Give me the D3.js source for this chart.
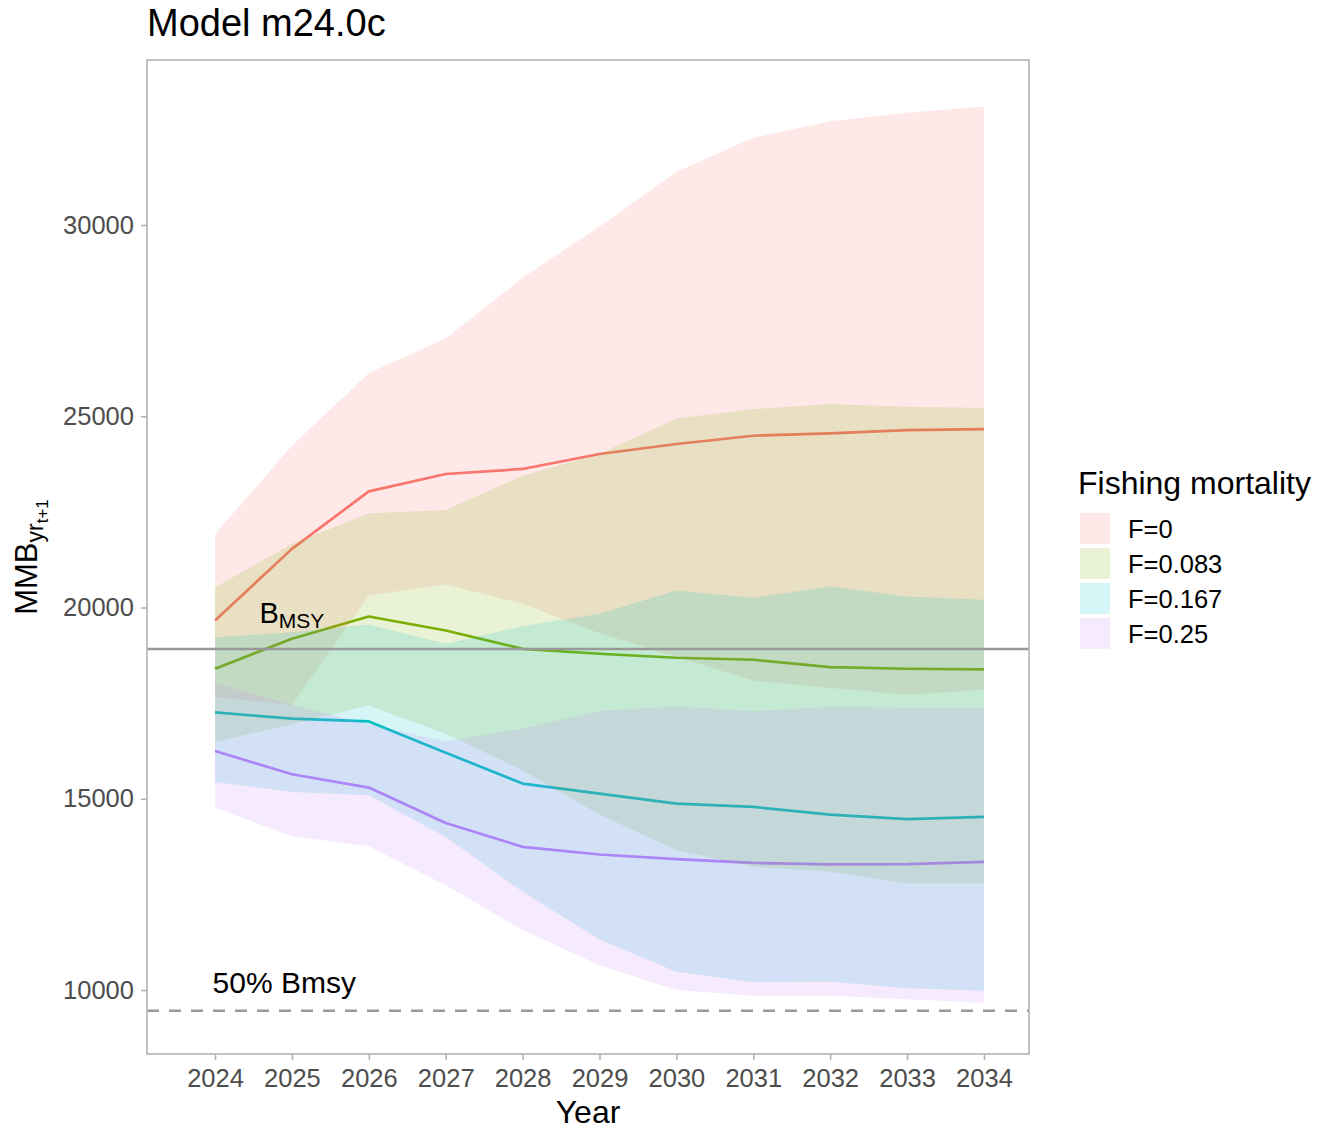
<!DOCTYPE html>
<html>
<head>
<meta charset="utf-8">
<script src="https://cdn.jsdelivr.net/npm/d3@7"></script>
<style>
  body { margin: 0; background: #ffffff; }
  text { font-family: "Liberation Sans", Arial, Helvetica, sans-serif; }
</style>
</head>
<body>
<svg id="chart" width="1329" height="1130"></svg>
<script>
// Projected mature male biomass by fishing-mortality scenario
const years = [2024, 2025, 2026, 2027, 2028, 2029, 2030, 2031, 2032, 2033, 2034];
const scenarios = ["F=0", "F=0.083", "F=0.167", "F=0.25"];
const scenarioColors = ["#F8766D", "#7CAE00", "#00BFC4", "#C77CFF"];

// F = 0
const medF0   = [19661, 21533, 23037, 23491, 23622, 24013, 24274, 24491, 24551, 24640, 24665];
const lowF0   = [17658, 17450, 20313, 20601, 20096, 19330, 18703, 18094, 17894, 17720, 17851];
const highF0  = [21924, 24230, 26128, 27031, 28624, 29956, 31392, 32280, 32715, 32932, 33099];
// F = 0.083
const medF1   = [18399, 19183, 19765, 19399, 18921, 18791, 18687, 18634, 18443, 18399, 18381];
const lowF1   = [16483, 16950, 17441, 16700, 15744, 14590, 13655, 13220, 13090, 12786, 12786];
const highF1  = [20530, 21662, 22462, 22550, 23446, 24013, 24943, 25187, 25318, 25248, 25213];
// F = 0.167
const medF2   = [17258, 17093, 17023, 16204, 15397, 15136, 14875, 14786, 14587, 14465, 14525];
const lowF2   = [15438, 15177, 15091, 14003, 12567, 11320, 10478, 10200, 10218, 10044, 9982];
const highF2  = [19225, 19355, 19556, 19052, 19512, 19834, 20444, 20253, 20548, 20287, 20201];
// F = 0.25
const medF3   = [16250, 15640, 15292, 14368, 13742, 13543, 13420, 13324, 13282, 13290, 13350];
const lowF3   = [14770, 14021, 13760, 12742, 11567, 10650, 10000, 9852, 9852, 9757, 9668];
const highF3  = [18024, 17450, 16950, 16500, 16832, 17293, 17415, 17285, 17406, 17380, 17381];

// Reference points
const bmsy = 18915;
const halfBmsy = bmsy / 2;

const yTicks = [10000, 15000, 20000, 25000, 30000];

const medians = [medF0, medF1, medF2, medF3];
const lows = [lowF0, lowF1, lowF2, lowF3];
const highs = [highF0, highF1, highF2, highF3];

const series = scenarios.map((name, i) => ({
  name,
  color: scenarioColors[i],
  points: years.map((yr, j) => ({ year: yr, med: medians[i][j], lo: lows[i][j], hi: highs[i][j] }))
}));

const svg = d3.select("#chart");
const panel = { left: 147, right: 1029, top: 60, bottom: 1054 };
const ribbonAlpha = 0.16;
const borderGrey = "#B3B3B3";
const fontStack = '"Liberation Sans", Arial, Helvetica, sans-serif';

const x = d3.scaleLinear().domain([2023.115, 2034.586]).range([panel.left, panel.right]);
const y = d3.scaleLinear().domain([8327, 34314]).range([panel.bottom, panel.top]);

svg.append("rect").attr("width", 1329).attr("height", 1130).attr("fill", "#ffffff");

// Median trajectories (drawn beneath the ribbons)
const line = d3.line().x(d => x(d.year)).y(d => y(d.med));
svg.append("g").selectAll("path").data(series).join("path")
  .attr("d", d => line(d.points))
  .attr("fill", "none")
  .attr("stroke", d => d.color)
  .attr("stroke-width", 2.7)
  .attr("stroke-linejoin", "round");

// Uncertainty ribbons
const area = d3.area().x(d => x(d.year)).y0(d => y(d.lo)).y1(d => y(d.hi));
svg.append("g").selectAll("path").data(series).join("path")
  .attr("d", d => area(d.points))
  .attr("fill", d => d.color)
  .attr("fill-opacity", ribbonAlpha);

// B_MSY and 50% B_MSY reference lines
svg.append("line")
  .attr("x1", panel.left).attr("x2", panel.right)
  .attr("y1", y(bmsy)).attr("y2", y(bmsy))
  .attr("stroke", "#999999").attr("stroke-width", 2.5);
svg.append("line")
  .attr("x1", panel.left).attr("x2", panel.right)
  .attr("y1", y(halfBmsy)).attr("y2", y(halfBmsy))
  .attr("stroke", "#999999").attr("stroke-width", 2.5)
  .attr("stroke-dasharray", "12,10");

// Reference line labels
const bLabel = svg.append("text")
  .attr("x", x(2025)).attr("y", y(bmsy) - 26)
  .attr("text-anchor", "middle").attr("font-size", 29).attr("fill", "#000");
bLabel.append("tspan").text("B");
bLabel.append("tspan").attr("font-size", 21).attr("dy", 5).text("MSY");

svg.append("text")
  .attr("x", x(2024.9)).attr("y", y(halfBmsy) - 18)
  .attr("text-anchor", "middle").attr("font-size", 30).attr("fill", "#000")
  .text("50% Bmsy");

// Panel border
svg.append("rect")
  .attr("x", panel.left).attr("y", panel.top)
  .attr("width", panel.right - panel.left).attr("height", panel.bottom - panel.top)
  .attr("fill", "none").attr("stroke", borderGrey).attr("stroke-width", 1.6);

// Axes
const xAxis = svg.append("g")
  .attr("transform", `translate(0,${panel.bottom})`)
  .call(d3.axisBottom(x).tickValues(years).tickFormat(d3.format("d")).tickSize(6).tickPadding(9));
const yAxis = svg.append("g")
  .attr("transform", `translate(${panel.left},0)`)
  .call(d3.axisLeft(y).tickValues(yTicks).tickFormat(d3.format("d")).tickSize(6).tickPadding(7));

[xAxis, yAxis].forEach(g => {
  g.select(".domain").remove();
  g.selectAll(".tick line").attr("stroke", borderGrey).attr("stroke-width", 1.6);
  g.selectAll(".tick text").attr("fill", "#4D4D4D").attr("font-size", 25.5)
    .style("font-family", fontStack);
});

// Axis titles
svg.append("text")
  .attr("x", (panel.left + panel.right) / 2).attr("y", 1123)
  .attr("text-anchor", "middle").attr("font-size", 32).attr("fill", "#000")
  .text("Year");

const yTitle = svg.append("text")
  .attr("transform", `translate(37,${(panel.top + panel.bottom) / 2}) rotate(-90)`)
  .attr("text-anchor", "middle").attr("font-size", 31).attr("fill", "#000");
yTitle.append("tspan").text("MMB");
yTitle.append("tspan").attr("font-size", 23).attr("dy", 6).text("yr");
yTitle.append("tspan").attr("font-size", 17).attr("dy", 5).text("t+1");

// Title
svg.append("text")
  .attr("x", panel.left).attr("y", 36)
  .attr("font-size", 38).attr("fill", "#000")
  .text("Model m24.0c");

// Legend
const legend = svg.append("g").attr("transform", "translate(1078,0)");
legend.append("text").attr("x", 0).attr("y", 494)
  .attr("font-size", 32).attr("fill", "#000").text("Fishing mortality");
const items = legend.selectAll("g.item").data(series).join("g")
  .attr("class", "item")
  .attr("transform", (d, i) => `translate(0,${513 + i * 35})`);
items.append("rect")
  .attr("x", 2).attr("y", 0).attr("width", 30).attr("height", 31)
  .attr("fill", d => d.color).attr("fill-opacity", ribbonAlpha);
items.append("text")
  .attr("x", 50).attr("y", 25)
  .attr("font-size", 25.5).attr("fill", "#000")
  .text(d => d.name);
</script>
</body>
</html>
